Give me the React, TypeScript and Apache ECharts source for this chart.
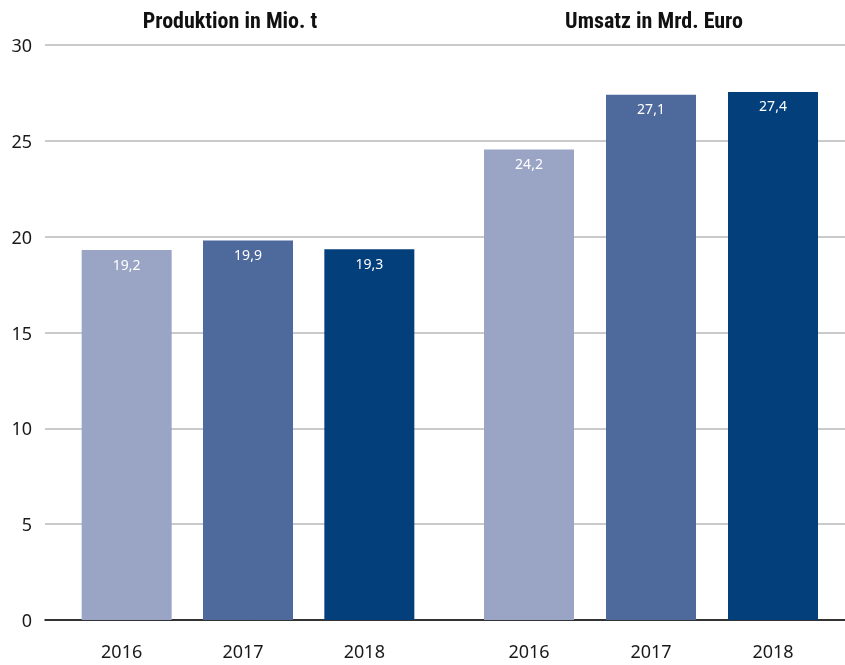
import React, { useEffect, useRef } from "react";
import * as echarts from "echarts";

const years = ["2016", "2017", "2018"];
const groupTitles = ["Produktion in Mio. t", "Umsatz in Mrd. Euro"];
const produktion = [19.3, 19.8, 19.35];
const produktionLabels = ["19,2", "19,9", "19,3"];
const umsatz = [24.55, 27.4, 27.55];
const umsatzLabels = ["24,2", "27,1", "27,4"];
const barColors = ["#9AA5C6", "#4E6A9C", "#033F7B"];
const yTicks = { min: 0, max: 30, interval: 5 };

const TOP = 45;
const BOTTOM = 45;

export default function App() {
  const ref = useRef<HTMLDivElement>(null);
  useEffect(() => {
    if (!ref.current) return;
    const chart = echarts.init(ref.current, undefined, { renderer: "svg" });
    const labelFont = "Noto Sans";
    const makeBarData = (vals: number[], labels: string[]) =>
      vals.map((v, i) => ({
        value: v,
        itemStyle: { color: barColors[i] },
        label: { formatter: labels[i] },
      }));
    const hiddenY = (gridIndex: number) => ({
      type: "value",
      gridIndex,
      ...yTicks,
      show: false,
      splitLine: { show: false },
    });
    const barX = (gridIndex: number, pad: number[]) => ({
      type: "category",
      gridIndex,
      data: years,
      axisLine: { show: false },
      axisTick: { show: false },
      axisLabel: {
        margin: 22,
        padding: pad,
        fontFamily: labelFont,
        fontSize: 18,
        color: "#1a1a1a",
      },
    });
    const barSeries = (idx: number, vals: number[], labels: string[]) => ({
      type: "bar",
      xAxisIndex: idx,
      yAxisIndex: idx,
      barWidth: 90,
      data: makeBarData(vals, labels),
      label: {
        show: true,
        position: "insideTop",
        distance: 7,
        color: "#ffffff",
        fontFamily: labelFont,
        fontSize: 14,
      },
    });
    const titleFont = 'bold 22px "Liberation Sans Narrow", "Roboto Condensed", sans-serif';
    chart.setOption({
      animation: false,
      grid: [
        { left: 45, right: 0, top: TOP, bottom: BOTTOM },
        { left: 66, width: 364, top: TOP, bottom: BOTTOM },
        { left: 468, width: 366, top: TOP, bottom: BOTTOM },
      ],
      xAxis: [
        {
          type: "category",
          gridIndex: 0,
          data: [""],
          axisLine: { show: true, lineStyle: { color: "#000000", width: 1.5 } },
          axisTick: { show: false },
          axisLabel: { show: false },
        },
        barX(1, [0, 10, 0, 0]),
        barX(2, [0, 0, 0, 0]),
      ],
      yAxis: [
        {
          type: "value",
          gridIndex: 0,
          ...yTicks,
          axisLine: { show: false },
          axisTick: { show: false },
          axisLabel: {
            margin: 13,
            fontFamily: labelFont,
            fontSize: 18,
            color: "#1a1a1a",
          },
          splitLine: { lineStyle: { color: "#b8b8b8", width: 1.5 } },
        },
        hiddenY(1),
        hiddenY(2),
      ],
      graphic: [
        {
          type: "text",
          x: 230,
          y: 20,
          style: {
            text: groupTitles[0],
            textAlign: "center",
            textVerticalAlign: "middle",
            font: titleFont,
            fill: "#111111",
          },
        },
        {
          type: "text",
          x: 654,
          y: 20,
          style: {
            text: groupTitles[1],
            textAlign: "center",
            textVerticalAlign: "middle",
            font: titleFont,
            fill: "#111111",
          },
        },
      ],
      series: [barSeries(1, produktion, produktionLabels), barSeries(2, umsatz, umsatzLabels)],
    });
    return () => chart.dispose();
  }, []);
  return (
    <div
      ref={ref}
      style={{ position: "fixed", left: 0, top: 0, width: 845, height: 665 }}
    />
  );
}
